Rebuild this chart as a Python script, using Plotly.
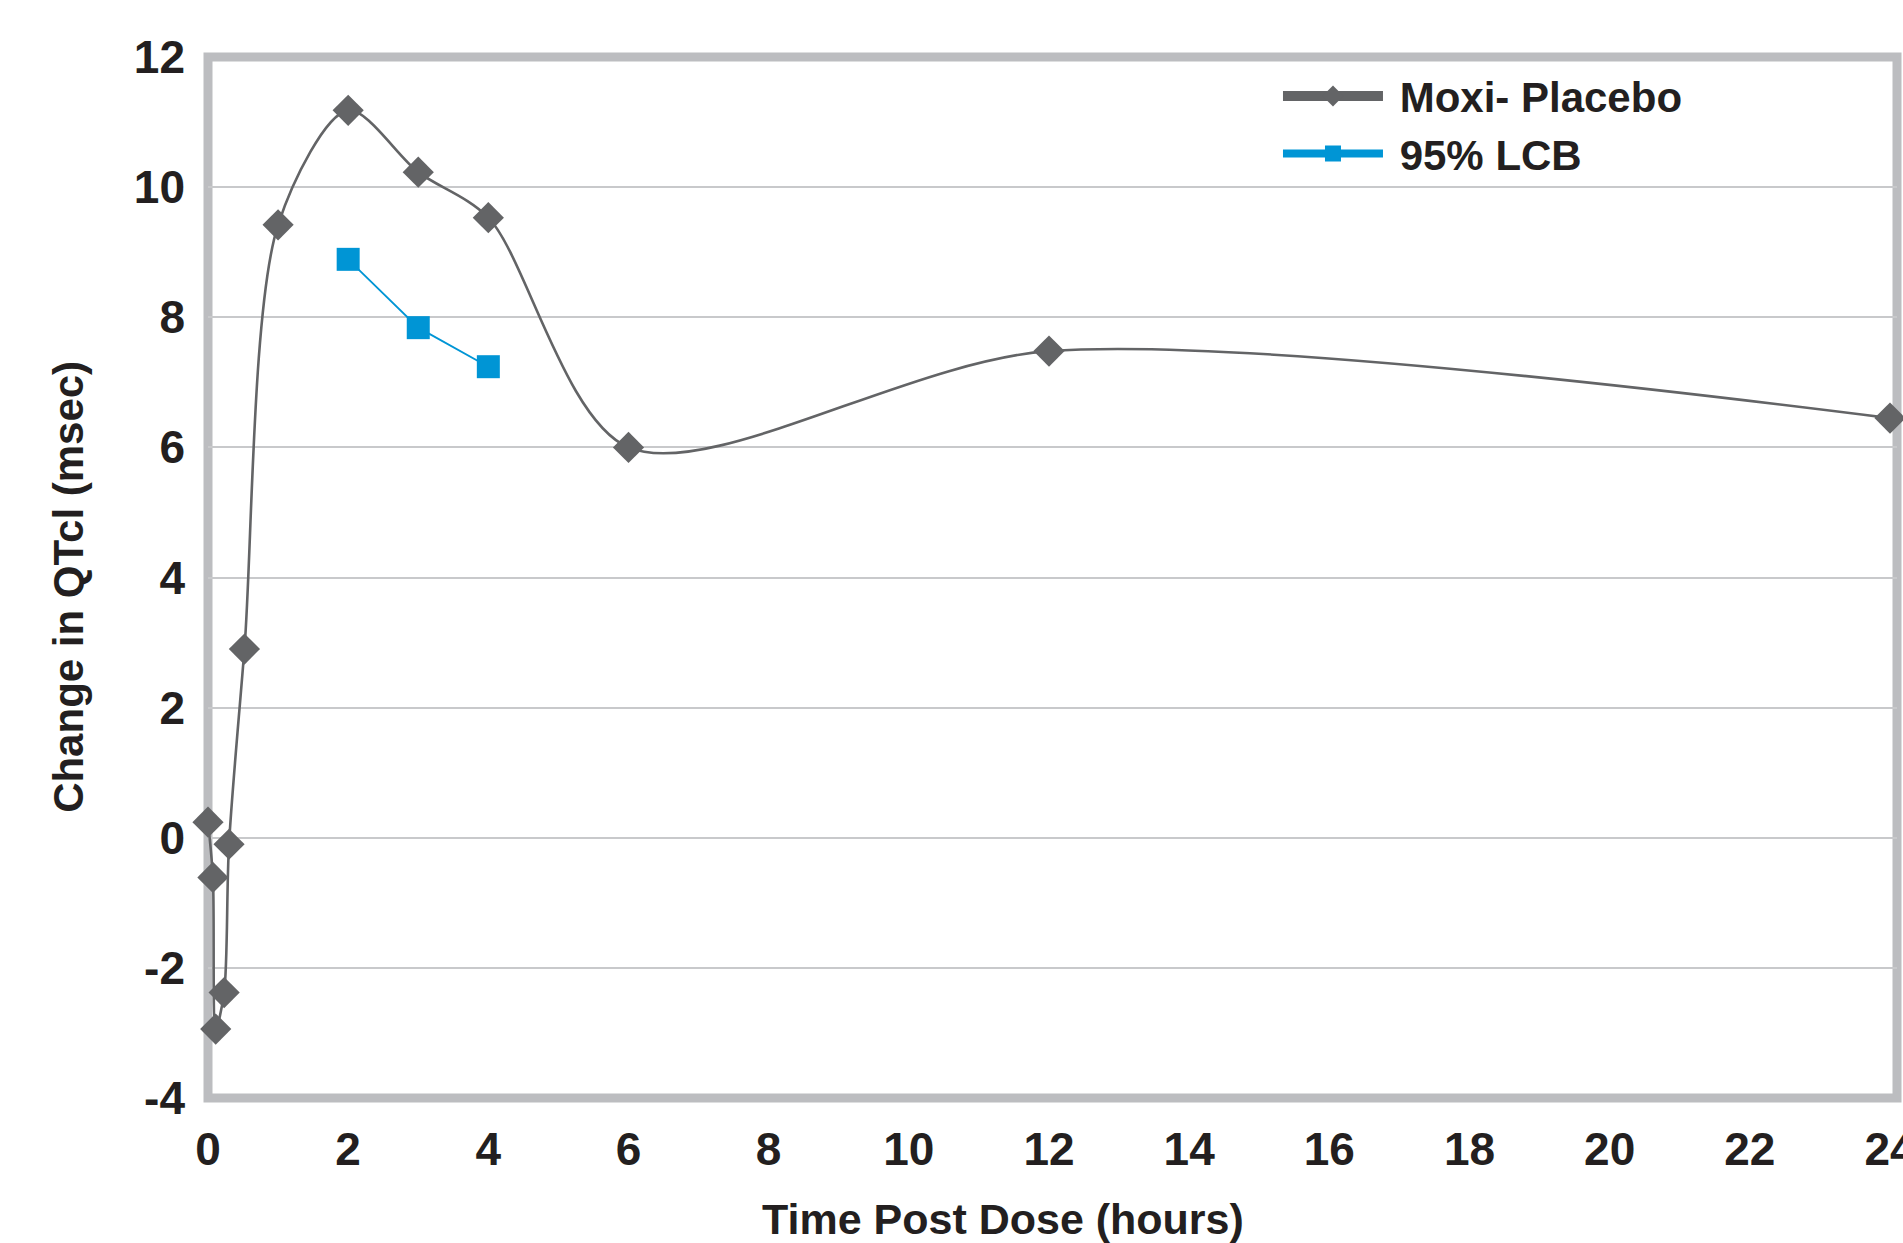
import plotly.graph_objects as go

# ---- data ----
time_moxi = [0, 0.07, 0.11, 0.23, 0.30, 0.52, 1, 2, 3, 4, 6, 12, 24]
moxi_minus_placebo = [0.24, -0.61, -2.94, -2.38, -0.1, 2.9, 9.42, 11.18, 10.23, 9.53, 6.0, 7.48, 6.45]

time_lcb = [2, 3, 4]
lcb_95 = [8.89, 7.84, 7.24]

x_ticks = [0, 2, 4, 6, 8, 10, 12, 14, 16, 18, 20, 22, 24]
y_ticks = [-4, -2, 0, 2, 4, 6, 8, 10, 12]

series_names = ["Moxi- Placebo", "95% LCB"]
x_title = "Time Post Dose (hours)"
y_title = "Change in QTcl (msec)"

GRAY = "#636466"
BLUE = "#0095d5"
TEXT = "#231f20"
FRAME = "#bcbdc0"
GRID = "#c8c9cb"
FONT = "Liberation Sans, Arial, sans-serif"

fig = go.Figure()

# data traces
fig.add_trace(go.Scatter(
    x=time_moxi, y=moxi_minus_placebo, mode="lines+markers",
    line=dict(color=GRAY, width=2.6, shape="spline", smoothing=0.85),
    marker=dict(symbol="diamond", size=24, color=GRAY),
    cliponaxis=False, showlegend=False,
))
fig.add_trace(go.Scatter(
    x=time_lcb, y=lcb_95, mode="lines+markers",
    line=dict(color=BLUE, width=1.8),
    marker=dict(symbol="square", size=23, color=BLUE),
    cliponaxis=False, showlegend=False,
))

# legend entries (thicker legend strokes as in the reference)
fig.add_trace(go.Scatter(
    x=[None], y=[None], mode="lines+markers", name=" " + series_names[0],
    line=dict(color=GRAY, width=10), marker=dict(symbol="diamond", size=16, color=GRAY),
))
fig.add_trace(go.Scatter(
    x=[None], y=[None], mode="lines+markers", name=" " + series_names[1],
    line=dict(color=BLUE, width=8), marker=dict(symbol="square", size=16, color=BLUE),
))

fig.update_layout(
    width=1903, height=1243,
    margin=dict(l=208, r=6, t=57, b=145, autoexpand=False),
    paper_bgcolor="white", plot_bgcolor="white",
    font=dict(family=FONT, color=TEXT, size=42, weight=700),
    legend=dict(
        x=0.6335, y=0.995, xanchor="left", yanchor="top",
        bgcolor="rgba(0,0,0,0)", font=dict(size=42, color=TEXT, family=FONT, weight=700),
        itemwidth=100, tracegroupgap=0,
    ),
    xaxis=dict(
        range=[0, 24.1], tickvals=x_ticks, ticktext=[str(v) for v in x_ticks],
        showgrid=False, zeroline=False, showline=False, ticks="",
        tickfont=dict(size=46, family=FONT, color=TEXT, weight=700),
        ticklabelstandoff=20, ticklabeloverflow="allow",
    ),
    yaxis=dict(
        range=[-4, 12], tickvals=y_ticks, ticktext=[str(v) for v in y_ticks],
        showgrid=True, gridcolor=GRID, gridwidth=2, zeroline=False, showline=False, ticks="",
        tickfont=dict(size=46, family=FONT, color=TEXT, weight=700),
        ticklabelstandoff=22,
    ),
    shapes=[dict(
        type="rect", xref="paper", yref="paper", x0=0, x1=1, y0=0, y1=1,
        line=dict(color=FRAME, width=9), fillcolor="rgba(0,0,0,0)", layer="between",
    )],
    annotations=[
        dict(text=x_title, xref="paper", yref="paper", x=0.4704, y=-0.116,
             xanchor="center", yanchor="middle", showarrow=False,
             font=dict(size=43, family=FONT, color=TEXT, weight=700)),
        dict(text=y_title, xref="paper", yref="paper", x=-0.0823, y=0.491,
             xanchor="center", yanchor="middle", showarrow=False, textangle=-90,
             font=dict(size=42, family=FONT, color=TEXT, weight=700)),
    ],
)

fig.write_html("out.html", config={"displayModeBar": False},
               post_script="document.body.style.margin='0';")
